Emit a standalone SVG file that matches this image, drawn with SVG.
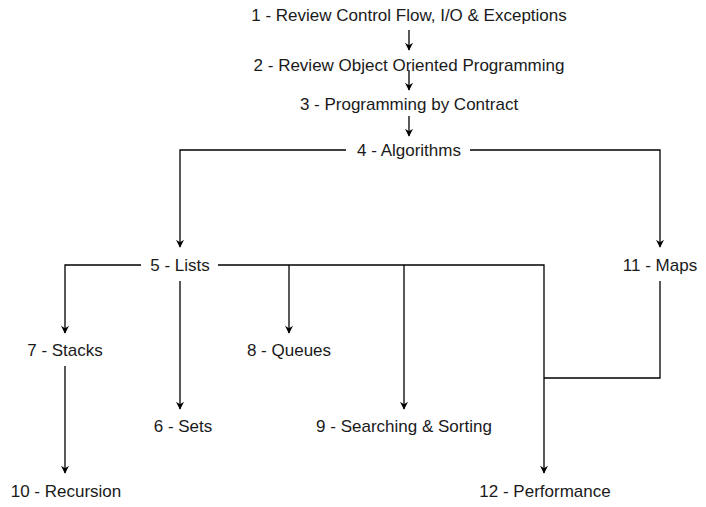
<svg xmlns="http://www.w3.org/2000/svg" width="706" height="507" viewBox="0 0 706 507">
<style>
text{font-family:"Liberation Sans",Arial,sans-serif;font-size:17px;fill:#1a1a1a;text-anchor:middle;dominant-baseline:central}
.c{fill:none;stroke:#000;stroke-width:1.3}
</style>
<defs>
<marker id="a" viewBox="0 0 10 10" refX="9" refY="5" markerWidth="8" markerHeight="8" markerUnits="userSpaceOnUse" orient="auto">
<path d="M0,0 L10,5 L0,10 L3,5 Z" fill="#000"/>
</marker>
</defs>
<rect width="706" height="507" fill="#fff"/>
<g id="connectors">
<path class="c" d="M409,30 V50" marker-end="url(#a)"/>
<path class="c" d="M409,70 V90" marker-end="url(#a)"/>
<path class="c" d="M409,116 V136" marker-end="url(#a)"/>
<path class="c" d="M346,150 H180 V247" marker-end="url(#a)"/>
<path class="c" d="M470,150 H660 V247" marker-end="url(#a)"/>
<path class="c" d="M141,265 H65 V333" marker-end="url(#a)"/>
<path class="c" d="M218,265 H544 V473" marker-end="url(#a)"/>
<path class="c" d="M289,265 V333" marker-end="url(#a)"/>
<path class="c" d="M404,265 V409" marker-end="url(#a)"/>
<path class="c" d="M180,281 V409" marker-end="url(#a)"/>
<path class="c" d="M65,366 V473" marker-end="url(#a)"/>
<path class="c" d="M660,281 V378 H544"/>
</g>
<g id="n1"><text x="409" y="15">1 - Review Control Flow, I/O &amp; Exceptions</text></g>
<g id="n2"><text x="409" y="65">2 - Review Object Oriented Programming</text></g>
<g id="n3"><text x="409" y="104">3 - Programming by Contract</text></g>
<g id="n4"><text x="409" y="150">4 - Algorithms</text></g>
<g id="n5"><text x="180" y="265">5 - Lists</text></g>
<g id="n11"><text x="660" y="265">11 - Maps</text></g>
<g id="n7"><text x="65" y="350">7 - Stacks</text></g>
<g id="n8"><text x="289" y="350">8 - Queues</text></g>
<g id="n6"><text x="183" y="426">6 - Sets</text></g>
<g id="n9"><text x="404" y="426">9 - Searching &amp; Sorting</text></g>
<g id="n10"><text x="66" y="491">10 - Recursion</text></g>
<g id="n12"><text x="545" y="491">12 - Performance</text></g>
</svg>
